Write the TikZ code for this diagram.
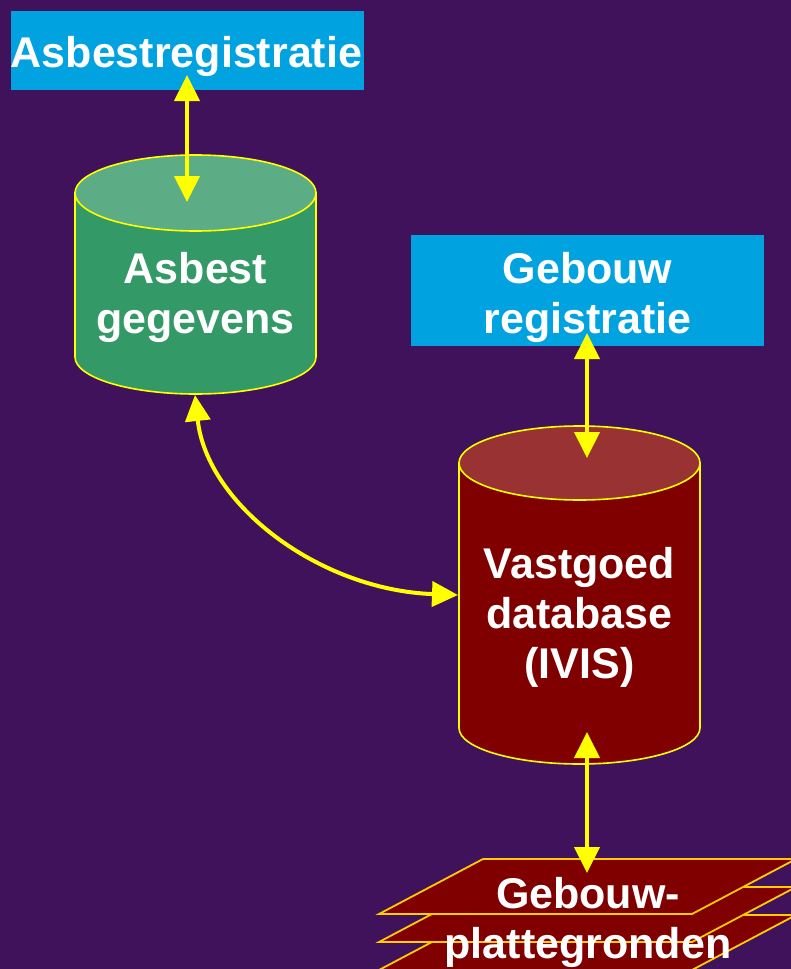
\documentclass[tikz,border=0pt]{standalone}
\usepackage{fontspec}
\setmainfont{Liberation Sans}
\usetikzlibrary{arrows.meta}

\definecolor{bgpurple}{RGB}{65,18,92}
\definecolor{regblue}{RGB}{0,162,224}
\definecolor{greenbody}{RGB}{51,153,102}
\definecolor{greentop}{RGB}{92,173,133}
\definecolor{redbody}{RGB}{128,0,0}
\definecolor{redtop}{RGB}{153,51,51}
\definecolor{linkyellow}{RGB}{255,255,0}
\definecolor{planeedge}{RGB}{255,204,0}

\tikzset{
  bigtext/.style={text=white, inner sep=0pt, align=center,
    font=\fontsize{43}{50}\selectfont\bfseries},
  regbox/.style={fill=regblue, draw=none, inner sep=0pt},
  cylline/.style={draw=linkyellow, line width=1.6pt},
  planeline/.style={draw=planeedge, line width=1.8pt, fill=redbody, line join=miter},
  link/.style={draw=linkyellow, line width=4pt,
    {Triangle[length=26pt,width=25pt]}-{Triangle[length=26pt,width=25pt]}},
}

\begin{document}
\begin{tikzpicture}[x=1pt,y=1pt]
  % canvas
  \fill[bgpurple] (0,0) rectangle (791,-969);
  \useasboundingbox (0,0) rectangle (791,-969);

  % registration boxes
  \node[regbox, minimum width=353pt, minimum height=79pt] (asreg) at (187.5,-50.5) {};
  \node[bigtext] (asregtxt) at (186.5,-56) {Asbestregistratie};

  \node[regbox, minimum width=353pt, minimum height=111pt] (gebreg) at (587.5,-290.5) {};
  \node[bigtext] (gebregtxt) at (587.5,-297) {Gebouw\\registratie};

  % green cylinder: Asbest gegevens
  \path[cylline, fill=greenbody] (75,-193) -- (75,-357)
    arc[start angle=180, end angle=360, x radius=120.5, y radius=37]
    -- (316,-193) -- cycle;
  \path[cylline, fill=greentop] (195.5,-193) ellipse [x radius=120.5, y radius=38];
  \node[bigtext] (asdata) at (195.5,-297) {Asbest\\gegevens};

  % red cylinder: Vastgoed database
  \path[cylline, fill=redbody] (459,-463) -- (459,-728)
    arc[start angle=180, end angle=360, x radius=120.5, y radius=36]
    -- (700,-463) -- cycle;
  \path[cylline, fill=redtop] (579.5,-463) ellipse [x radius=120.5, y radius=37];
  \node[bigtext] (ivis) at (579.5,-617) {Vastgoed\\database\\(IVIS)};

  % stacked floor plans
  \foreach \d in {56,28,0}{
    \path[planeline] (483,-859-\d) -- (796,-859-\d) -- (692,-914-\d) -- (379,-914-\d) -- cycle;
  }
  \node[bigtext] (plans) at (588,-922) {Gebouw-\\plattegronden};

  % connector end points
  \coordinate (asregin) at (187,-75);
  \coordinate (asdatatop) at (187,-202);
  \coordinate (asdatabot) at (195,-395);
  \coordinate (ivisside) at (458,-595);
  \coordinate (gebregin) at (587,-333);
  \coordinate (ivistop) at (587,-458);
  \coordinate (ivisbot) at (587,-732);
  \coordinate (planstop) at (587,-873);

  % connectors
  \draw[link] (asregin) -- (asdatatop);
  \draw[link] (asdatabot) .. controls (207,-505) and (320,-590) .. (ivisside);
  \draw[link] (gebregin) -- (ivistop);
  \draw[link] (ivisbot) -- (planstop);
\end{tikzpicture}
\end{document}
